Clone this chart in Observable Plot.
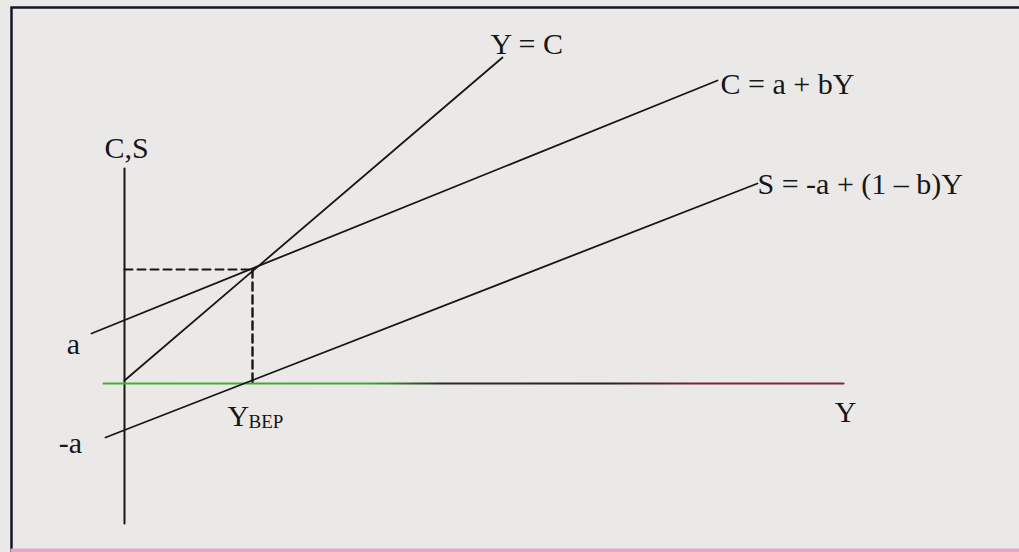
<!DOCTYPE html>
<html>
<head>
<meta charset="utf-8">
<script src="https://cdn.jsdelivr.net/npm/d3@7"></script>
<script src="https://cdn.jsdelivr.net/npm/@observablehq/plot@0.6"></script>
<style>
  html, body { margin: 0; padding: 0; background: #ebe9e7; }
  #chart svg { display: block; }
</style>
</head>
<body>
<div id="chart"></div>
<script>
// Consumption and saving functions with the break-even income level.
// Y = income (horizontal), C,S = consumption / saving (vertical), arbitrary units.

const axisVertical   = [{Y: 0, C: 21.5}, {Y: 0, C: -14.0}];
const axisHorizontal = [{Y: -2.1, C: 0}, {Y: 71.9, C: 0}];

const lineYC = [{Y: 0, C: 0.3}, {Y: 37.8, C: 32.6}];    // Y = C (45° line)
const lineC  = [{Y: -3.3, C: 5.0}, {Y: 59.3, C: 30.3}]; // C = a + bY
const lineS  = [{Y: -1.9, C: -5.4}, {Y: 63.3, C: 20.0}]; // S = -a + (1 - b)Y

const bepY = 12.8;  // break-even income
const bepC = 11.4;  // consumption at break-even

const guideHorizontal = [{Y: 0, C: bepC}, {Y: bepY, C: bepC}];
const guideVertical   = [{Y: bepY, C: bepC}, {Y: bepY, C: 0}];

// labels: position is the text baseline
const labelText   = ["Y = C", "C = a + bY", "S = -a + (1 \u2013 b)Y", "C,S", "a", "-a", "Y", "BEP", "Y"];
const labelY      = [36.6, 59.6, 63.3, 0.2, -5.1, -5.4, 10.3, 12.4, 72.1];
const labelC      = [33.0, 29.0, 19.0, 22.6, 3.0, -6.9, -4.2, -4.4, -3.8];
const labelAnchor = ["start", "start", "start", "middle", "middle", "middle", "start", "start", "middle"];
const labelSize   = [30, 30, 30, 30, 30, 30, 30, 19, 30];

const labels = labelText.map((t, i) => ({text: t, Y: labelY[i], C: labelC[i], anchor: labelAnchor[i], size: labelSize[i]}));

const ink = "#161616";
const font = "'Liberation Serif', 'Times New Roman', serif";

const textMarks = labels.map(d => Plot.text([d], {
  x: "Y", y: "C", text: "text",
  textAnchor: d.anchor,
  lineAnchor: "middle",
  dy: -0.32 * d.size,
  fontSize: d.size,
  fontFamily: font,
  fill: ink
}));

const plot = Plot.plot({
  width: 1019,
  height: 552,
  margin: 0,
  style: {background: "#ebe9e7", overflow: "visible"},
  x: {domain: [-12.4, 89.5], axis: null},
  y: {domain: [-16.9, 38.3], axis: null},
  marks: [
    // page border (top and left visible, bottom faint)
    Plot.frame({stroke: "#15152a", strokeWidth: 2.5, insetTop: 7, insetLeft: 11, insetRight: -10, insetBottom: -10}),
    Plot.frame({stroke: "#e8a6c6", strokeWidth: 2, insetTop: 549, insetLeft: 11, insetRight: -10, insetBottom: 1}),
    // axes
    Plot.line(axisVertical, {x: "Y", y: "C", stroke: ink, strokeWidth: 2}),
    Plot.line(axisHorizontal, {x: "Y", y: "C", stroke: "url(#axisFade)", strokeWidth: 2.2}),
    // dashed guides to the break-even point
    Plot.line(guideHorizontal, {x: "Y", y: "C", stroke: ink, strokeWidth: 2, strokeDasharray: "8,5"}),
    Plot.line(guideVertical, {x: "Y", y: "C", stroke: ink, strokeWidth: 2.4, strokeDasharray: "8,5"}),
    // functions
    Plot.line(lineYC, {x: "Y", y: "C", stroke: ink, strokeWidth: 1.8}),
    Plot.line(lineC, {x: "Y", y: "C", stroke: ink, strokeWidth: 1.8}),
    Plot.line(lineS, {x: "Y", y: "C", stroke: ink, strokeWidth: 1.8}),
    ...textMarks
  ]
});

// colour ramp along the income axis
const xs = plot.scale("x");
const svg = d3.select(plot.tagName === "svg" ? plot : plot.querySelector("svg"));
const grad = svg.insert("defs", ":first-child")
  .append("linearGradient")
  .attr("id", "axisFade")
  .attr("gradientUnits", "userSpaceOnUse")
  .attr("x1", xs.apply(axisHorizontal[0].Y))
  .attr("x2", xs.apply(axisHorizontal[1].Y))
  .attr("y1", 0).attr("y2", 0);
[[0, "#3fb52e"], [0.36, "#3fa832"], [0.46, "#2a2c26"], [0.68, "#262326"], [0.8, "#7a2436"], [1, "#7d2a3c"]]
  .forEach(([o, c]) => grad.append("stop").attr("offset", o).attr("stop-color", c));

document.getElementById("chart").appendChild(plot);
</script>
</body>
</html>
